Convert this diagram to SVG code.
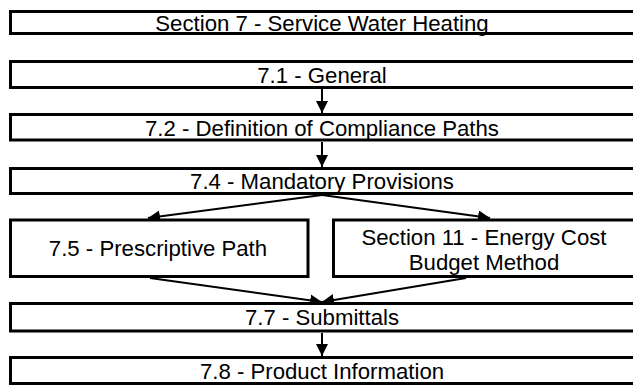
<svg xmlns="http://www.w3.org/2000/svg" width="633" height="387" viewBox="0 0 633 387">
<style>
.box{fill:#fff;stroke:#000;stroke-width:3}
.t{font-family:"Liberation Sans",Arial,sans-serif;font-size:22.2px;fill:#000;text-anchor:middle}
.c{stroke:#000;stroke-width:2;fill:none;marker-end:url(#ah)}
</style>
<defs>
<marker id="ah" markerUnits="userSpaceOnUse" markerWidth="12" markerHeight="12" viewBox="0 0 12 12" refX="12" refY="6" orient="auto">
<path d="M0,0 L12,6 L0,12 z" fill="#000"/>
</marker>
</defs>
<g id="connectors">
<line class="c" x1="322" y1="89" x2="322" y2="113"/>
<line class="c" x1="322" y1="142" x2="322" y2="167"/>
<line class="c" x1="322" y1="195" x2="148" y2="218"/>
<line class="c" x1="322" y1="195" x2="490" y2="218"/>
<line class="c" x1="150" y1="278" x2="322" y2="302"/>
<line class="c" x1="466" y1="278" x2="322" y2="302"/>
<line class="c" x1="322" y1="333" x2="322" y2="356"/>
</g>
<g id="s7"><rect class="box" x="10.5" y="11.5" width="625" height="22"/><text class="t" x="322" y="30.5">Section 7 - Service Water Heating</text></g>
<g id="s71"><rect class="box" x="10.5" y="61.5" width="625" height="26"/><text class="t" x="322" y="82.5">7.1 - General</text></g>
<g id="s72"><rect class="box" x="10.5" y="114.5" width="625" height="25.5"/><text class="t" x="322" y="135.5">7.2 - Definition of Compliance Paths</text></g>
<g id="s74"><rect class="box" x="10.5" y="168.5" width="625" height="25"/><text class="t" x="322" y="189">7.4 - Mandatory Provisions</text></g>
<g id="s75"><rect class="box" x="10.5" y="220" width="297.5" height="56.5"/><text class="t" x="158" y="256">7.5 - Prescriptive Path</text></g>
<g id="s11"><rect class="box" x="333.5" y="220" width="302" height="56.5"/><text class="t" x="484" y="245">Section 11 - Energy Cost</text><text class="t" x="484" y="269.5">Budget Method</text></g>
<g id="s77"><rect class="box" x="10.5" y="303.5" width="625" height="27.5"/><text class="t" x="322" y="325">7.7 - Submittals</text></g>
<g id="s78"><rect class="box" x="10.5" y="357.5" width="625" height="26"/><text class="t" x="322" y="378.5">7.8 - Product Information</text></g>
</svg>
